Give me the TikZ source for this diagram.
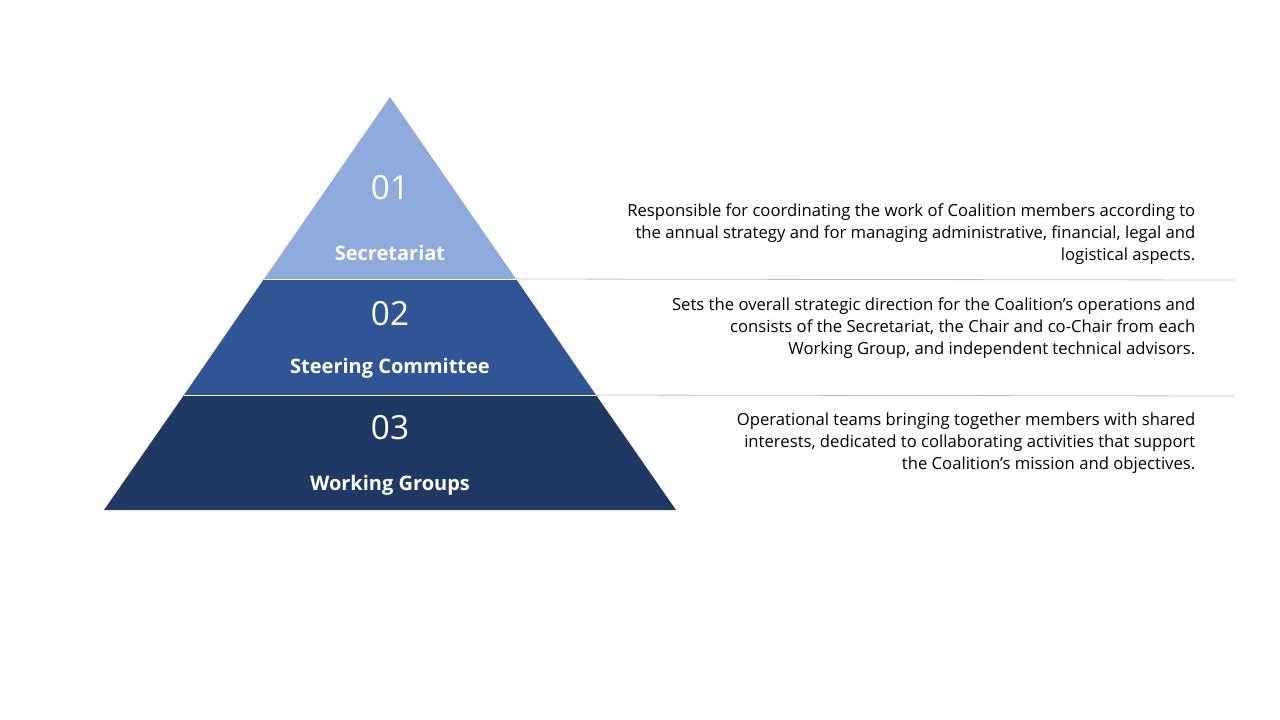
\documentclass[tikz,border=0pt]{standalone}
\usepackage{fontspec}
\setmainfont{Open Sans}
\definecolor{t1}{HTML}{8FAADC}
\definecolor{t2}{HTML}{2F5597}
\definecolor{t3}{HTML}{203864}
\begin{document}
\begin{tikzpicture}[x=0.75pt,y=-0.75pt,
  num/.style={text=white,font=\fontsize{25}{30}\selectfont},
  lab/.style={text=white,font=\bfseries\fontsize{15}{18}\selectfont},
  desc/.style={align=right,anchor=east,font=\fontsize{12.5}{16.5}\selectfont},
  sep/.style={draw=gray!50,line width=0.6pt}]
\useasboundingbox (0,0) rectangle (1280,720);
\coordinate (apex) at (390,97);
\coordinate (l1) at (264,279); \coordinate (r1) at (516,279);
\coordinate (l2) at (184,395); \coordinate (r2) at (596,395);
\coordinate (l3) at (104,510); \coordinate (r3) at (676,510);
\fill[t1] (apex) -- (r1) -- (l1) -- cycle;
\fill[t2] (l1) -- (r1) -- (r2) -- (l2) -- cycle;
\fill[t3] (l2) -- (r2) -- (r3) -- (l3) -- cycle;
\draw[white,line width=0.6pt] (l1) -- (r1) (l2) -- (r2);
\coordinate (e1) at (1235,280); \coordinate (e2) at (1235,396);
\draw[sep] (r1) -- (e1);
\draw[sep] (r2) -- (e2);
\node[num] (n1) at (390,188) {01};
\node[lab] (s1) at (390,253) {Secretariat};
\node[num] (n2) at (390,314) {02};
\node[lab] (s2) at (390,368) {Steering Committee};
\node[num] (n3) at (390,428) {03};
\node[lab] (s3) at (390,485) {Working Groups};
\node[desc] (d1) at (1200,234) {Responsible for coordinating the work of Coalition members according to\\the annual strategy and for managing administrative, financial, legal and\\logistical aspects.};
\node[desc] (d2) at (1200,328) {Sets the overall strategic direction for the Coalition’s operations and\\consists of the Secretariat, the Chair and co-Chair from each\\Working Group, and independent technical advisors.};
\node[desc] (d3) at (1200,443) {Operational teams bringing together members with shared\\interests, dedicated to collaborating activities that support\\the Coalition’s mission and objectives.};
\end{tikzpicture}
\end{document}
